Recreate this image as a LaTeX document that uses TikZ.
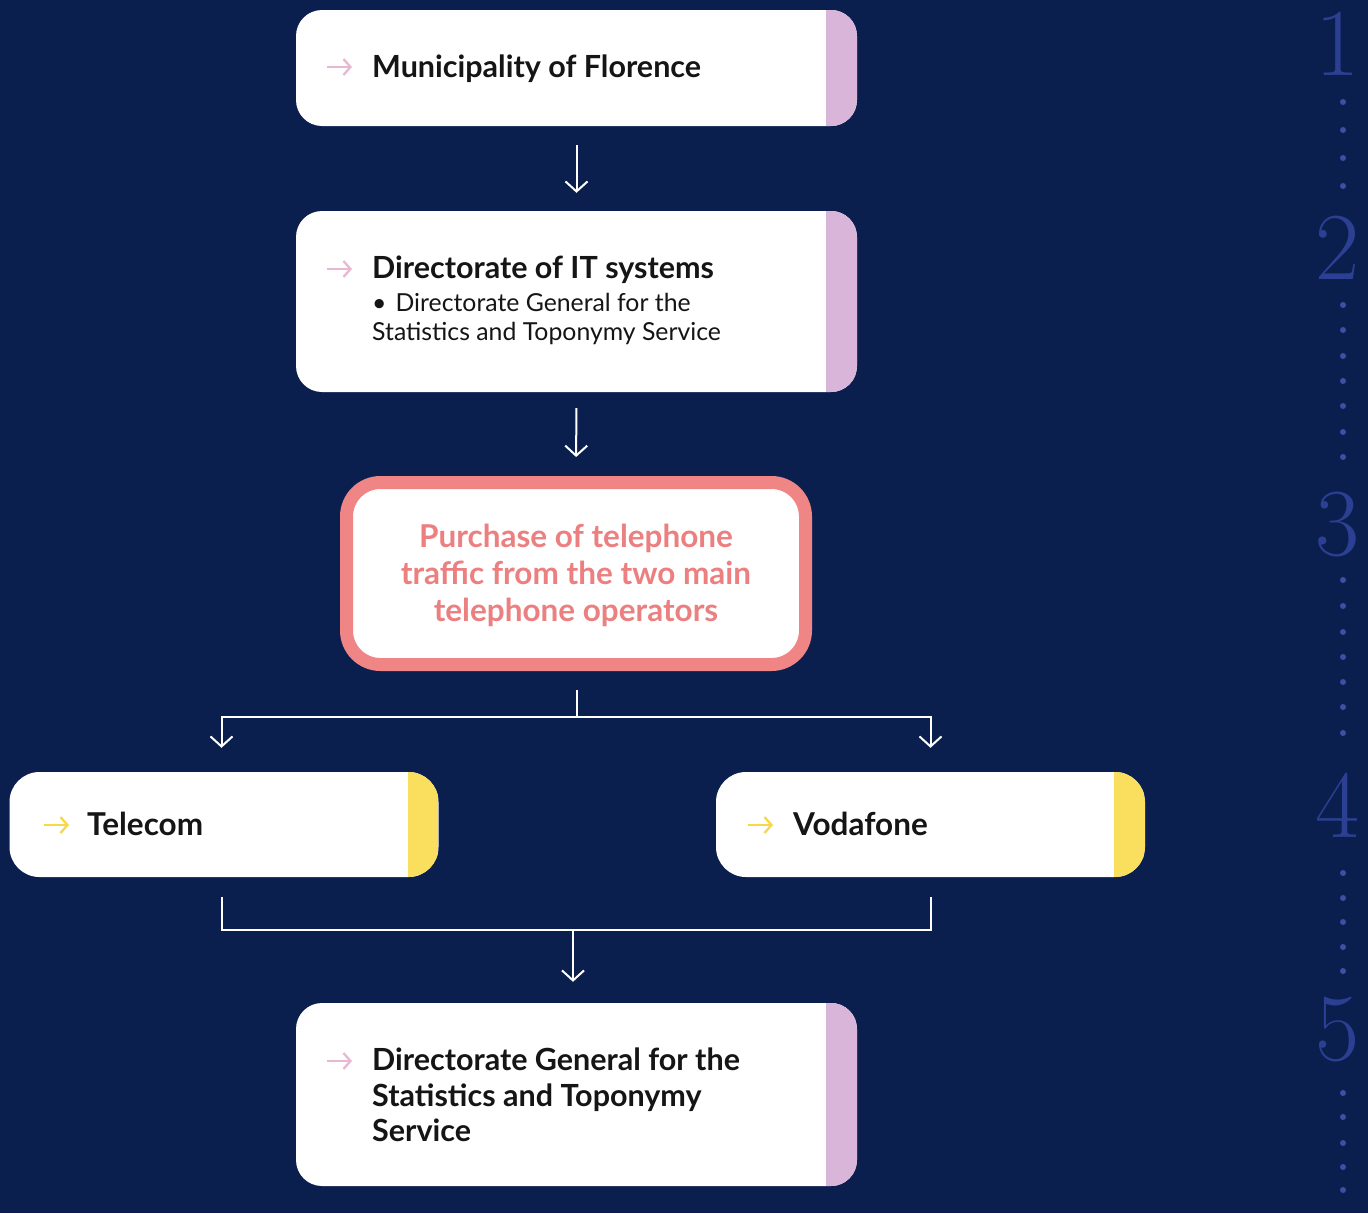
\documentclass[tikz,border=0pt]{standalone}
\usepackage{fontspec}
\newfontfamily\lato{Lato}
\usetikzlibrary{arrows.meta}
\definecolor{bg}{HTML}{0B1F4F}
\definecolor{stripP}{HTML}{D9B5D9}
\definecolor{iconP}{HTML}{E8B8D2}
\definecolor{stripY}{HTML}{FADF5E}
\definecolor{iconY}{HTML}{F6D84A}
\definecolor{pinkc}{HTML}{EF8585}
\definecolor{pinkt}{HTML}{EC7F7F}
\definecolor{numc}{HTML}{2C4093}
\definecolor{dotc}{HTML}{3B50A6}
\definecolor{ink}{HTML}{151515}
\begin{document}
\begin{tikzpicture}[x=1pt,y=-1pt,
  box/.style={fill=white, rounded corners=26pt, minimum width=561pt, inner sep=0pt,
    path picture={\fill[#1, sharp corners] ([xshift=-31pt]path picture bounding box.north east) rectangle (path picture bounding box.south east);}},
  opbox/.style={box=#1, rounded corners=30pt, minimum width=429pt, minimum height=105pt},
  title/.style={anchor=base west, inner sep=0pt, text=ink, font=\lato\bfseries\fontsize{30.5}{35}\selectfont},
  optitle/.style={title, font=\lato\bfseries\fontsize{31.5}{35}\selectfont},
  sub/.style={anchor=base west, inner sep=0pt, text=ink, font=\lato\fontsize{24.8}{29}\selectfont},
  conn/.style={draw=white, line width=2pt, -{Straight Barb[length=10pt,width=22pt]}},
  wire/.style={draw=white, line width=2pt},
  icon/.style={draw=#1, line width=2.3pt, -{Straight Barb[length=7pt,width=16pt]}},
  num/.style={text=numc, font=\fontsize{96}{96}\selectfont, inner sep=0pt, anchor=base},
  dot/.style={fill=dotc, circle, inner sep=0pt, minimum size=6pt}
]
\fill[bg] (0,0) rectangle (1368,1213);
\useasboundingbox (0,0) rectangle (1368,1213);

% step numbers and dotted guide
\node[num] (n1) at (1338,75) {1};
\node[num] (n2) at (1338,279) {2};
\node[num] (n3) at (1338,555) {3};
\node[num] (n4) at (1338,837) {4};
\node[num] (n5) at (1338,1060) {5};
\foreach \yy [count=\i] in {102,130,158,186,305,330,356,381,406,432,457,580,606,632,657,682,707,733,873,898,922,947,971,1093,1117,1143,1167,1190}
  \node[dot] (d\i) at (1343,\yy) {};

% boxes
\node[box=stripP, minimum height=116pt] (b1) at (576.5,68) {};
\node[box=stripP, minimum height=181pt] (b2) at (576.5,301.5) {};
\node[fill=white, draw=pinkc, line width=13pt, rounded corners=34pt,
      minimum width=459pt, minimum height=182pt, inner sep=0pt] (b3) at (576,573.5) {};
\node[opbox=stripY] (b4) at (224,824.5) {};
\node[opbox=stripY] (b5) at (930.5,824.5) {};
\node[box=stripP, minimum height=183pt] (b6) at (576.5,1094.5) {};

% texts
\node[title] (t1) at (372,77) {Municipality of Florence};
\node[title] (t2) at (372,278) {Directorate of IT systems};
\node[sub] (t2a) at (372,311) {\textbullet\hspace{9pt}Directorate General for the};
\node[sub] (t2b) at (372,340) {Statistics and Toponymy Service};
\node[align=center, text=pinkt, inner sep=0pt,
      font=\lato\bfseries\fontsize{31.5}{37}\selectfont] (t3) at (576,575)
  {Purchase of telephone\\traffic from the two main\\telephone operators};
\node[optitle] (t4) at (87,835) {Telecom};
\node[optitle] (t5) at (793,835) {Vodafone};
\node[title] (t6a) at (372,1070) {Directorate General for the};
\node[title] (t6b) at (372,1106) {Statistics and Toponymy};
\node[title] (t6c) at (372,1141) {Service};

% icons
\coordinate (i1s) at (327,67); \coordinate (i1e) at (352,67);
\coordinate (i2s) at (327,269); \coordinate (i2e) at (352,269);
\coordinate (i4s) at (44,825); \coordinate (i4e) at (69,825);
\coordinate (i5s) at (748,825); \coordinate (i5e) at (773,825);
\coordinate (i6s) at (327,1061); \coordinate (i6e) at (352,1061);
\draw[icon=iconP] (i1s) -- (i1e);
\draw[icon=iconP] (i2s) -- (i2e);
\draw[icon=iconY] (i4s) -- (i4e);
\draw[icon=iconY] (i5s) -- (i5e);
\draw[icon=iconP] (i6s) -- (i6e);

% connectors
\draw[conn, shorten <=19pt, shorten >=18pt] (b1.south) -- (b2.north);
\draw[conn, shorten <=16pt, shorten >=19pt] (b2.south) -- (b3.north);
\coordinate (split) at (577,717);
\draw[wire, shorten <=19pt] ([xshift=1pt]b3.south) -- (split);
\draw[conn, shorten >=24pt] (split) -| ([xshift=-2.5pt]b4.north);
\draw[conn, shorten >=24pt] (split) -| (b5.north);
\coordinate (merge) at (573,930);
\draw[wire, shorten <=20pt] ([xshift=-2.5pt]b4.south) |- (merge);
\draw[wire, shorten <=20pt] (b5.south) |- (merge);
\draw[conn, shorten >=21pt] (merge) -- (merge |- b6.north);
\end{tikzpicture}
\end{document}
